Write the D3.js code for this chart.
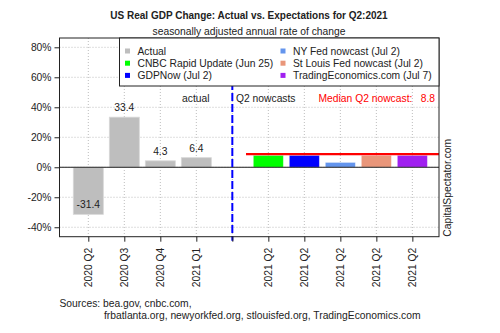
<!DOCTYPE html>
<html>
<head>
<meta charset="utf-8">
<title>US Real GDP Change</title>
<script src="https://d3js.org/d3.v7.min.js"></script>
<style>
    body { margin: 0; background: #fff; }
    svg { font-family: "Liberation Sans", Arial, sans-serif; }
    .grid line { stroke: #bdbdbd; stroke-dasharray: 1,2; }
</style>
</head>
<body>
<svg width="500" height="333"></svg>
<script>
// chart data
var categories = ["2020 Q2", "2020 Q3", "2020 Q4", "2021 Q1", "", "2021 Q2", "2021 Q2", "2021 Q2", "2021 Q2", "2021 Q2"];
var actualValues = [-31.4, 33.4, 4.3, 6.4];
var nowcastNames = ["CNBC Rapid Update (Jun 25)", "GDPNow (Jul 2)", "NY Fed nowcast (Jul 2)", "St Louis Fed nowcast (Jul 2)", "TradingEconomics.com (Jul 7)"];
var nowcastValues = [7.9, 7.9, 3.2, 7.9, 7.9];
var nowcastColors = ["#00FF00", "#0000FF", "#6495ED", "#E9967A", "#A020F0"];
var medianNowcast = 8.8;
var yTicks = [-40, -20, 0, 20, 40, 60, 80];

var fs = 10.3;
var svg = d3.select("svg");
// plot box (window.top is reserved, so use own names)
var pLeft = 59.5, pRight = 439, pTop = 38, pBottom = 236.7;

var x = d3.scaleLinear().domain([-0.8, 9.74]).range([pLeft, pRight]);
var y = d3.scaleLinear().domain([-46.3, 86.2]).range([pBottom, pTop]);
var halfBar = 0.4167;

// grid
var grid = svg.append("g").attr("class", "grid");
grid.selectAll(".h").data(yTicks).enter().append("line")
    .attr("x1", pLeft).attr("x2", pRight)
    .attr("y1", function (d) { return y(d); }).attr("y2", function (d) { return y(d); });
grid.selectAll(".v").data(categories).enter().append("line")
    .attr("x1", function (d, i) { return x(i); }).attr("x2", function (d, i) { return x(i); })
    .attr("y1", pTop).attr("y2", pBottom);

// actual bars
svg.selectAll(".actual").data(actualValues).enter().append("rect")
    .attr("x", function (d, i) { return x(i - halfBar); })
    .attr("width", x(halfBar) - x(-halfBar))
    .attr("y", function (d) { return y(Math.max(0, d)); })
    .attr("height", function (d) { return Math.abs(y(d) - y(0)); })
    .attr("fill", "#BEBEBE")
    .attr("stroke", "#d8d8d8").attr("stroke-width", 0.8);

svg.selectAll(".alabel").data(actualValues).enter().append("text")
    .attr("x", function (d, i) { return x(i); })
    .attr("y", function (d) { return y(d) - 9.5; })
    .attr("dy", "0.35em")
    .attr("text-anchor", "middle")
    .attr("font-size", fs).attr("fill", "#222")
    .text(function (d) { return d.toFixed(1); });

// nowcast bars
svg.selectAll(".now").data(nowcastValues).enter().append("rect")
    .attr("x", function (d, i) { return x(i + 5 - halfBar); })
    .attr("width", x(halfBar) - x(-halfBar))
    .attr("y", function (d) { return y(d); })
    .attr("height", function (d) { return y(0) - y(d); })
    .attr("fill", function (d, i) { return nowcastColors[i]; })
    .attr("stroke", "#fff").attr("stroke-opacity", 0.4).attr("stroke-width", 0.8);

// zero line
svg.append("line")
    .attr("x1", pLeft).attr("x2", pRight)
    .attr("y1", y(0)).attr("y2", y(0))
    .attr("stroke", "#222").attr("stroke-width", 1);

// median line
svg.append("line")
    .attr("x1", x(4.38)).attr("x2", pRight)
    .attr("y1", y(medianNowcast)).attr("y2", y(medianNowcast))
    .attr("stroke", "#FF0000").attr("stroke-width", 2.2);

// divider
svg.append("line")
    .attr("x1", x(4)).attr("x2", x(4))
    .attr("y1", pTop).attr("y2", pBottom + 4)
    .attr("stroke", "#0000FF").attr("stroke-width", 2)
    .attr("stroke-dasharray", "8,3");

// axes
var yAxis = svg.append("g")
    .attr("transform", "translate(" + pLeft + ",0)")
    .call(d3.axisLeft(y).tickValues(yTicks).tickSize(5).tickPadding(3)
        .tickFormat(function (d) { return d + "%"; }));
yAxis.select(".domain").remove();
yAxis.selectAll("text").attr("font-size", fs).attr("fill", "#222").attr("font-family", null);
yAxis.selectAll("line").attr("stroke", "#222");

var xAxis = svg.append("g")
    .attr("transform", "translate(0," + pBottom + ")")
    .call(d3.axisBottom(x).tickValues(d3.range(categories.length)).tickSize(5)
        .tickFormat(function (d) { return categories[d]; }));
xAxis.select(".domain").remove();
xAxis.selectAll("line").attr("stroke", "#222");
xAxis.selectAll("text")
    .attr("font-size", fs).attr("fill", "#222").attr("font-family", null)
    .attr("transform", "rotate(-90)")
    .attr("text-anchor", "end")
    .attr("x", -11).attr("y", 0).attr("dy", "0.35em");

// box
svg.append("rect")
    .attr("x", pLeft).attr("y", pTop)
    .attr("width", pRight - pLeft).attr("height", pBottom - pTop)
    .attr("fill", "none").attr("stroke", "#222").attr("stroke-width", 1);

// legend
var legendItems = [{ name: "Actual", color: "#BEBEBE" }].concat(nowcastNames.map(function (n, i) {
    return { name: n, color: nowcastColors[i] };
}));
svg.append("rect")
    .attr("x", 119.5).attr("y", pTop)
    .attr("width", pRight - 119.5).attr("height", 48)
    .attr("fill", "#fff").attr("stroke", "#222").attr("stroke-width", 1);
var lg = svg.selectAll(".lg").data(legendItems).enter().append("g")
    .attr("transform", function (d, i) {
        var col = i < 3 ? 0 : 1, row = i % 3;
        return "translate(" + (col ? 283 : 127.5) + "," + (51 + row * 12.2) + ")";
    });
lg.append("rect").attr("x", -2.5).attr("y", -2.5).attr("width", 5).attr("height", 5)
    .attr("fill", function (d) { return d.color; });
lg.append("text").attr("x", 10).attr("dy", "0.35em")
    .attr("font-size", fs).attr("fill", "#222")
    .text(function (d) { return d.name; });

// annotations
svg.append("text").attr("x", 209.5).attr("y", 98.5).attr("dy", "0.35em")
    .attr("text-anchor", "end").attr("font-size", fs).attr("fill", "#222").text("actual");
svg.append("text").attr("x", 236).attr("y", 98.5).attr("dy", "0.35em")
    .attr("font-size", fs).attr("fill", "#222").text("Q2 nowcasts");
svg.append("text").attr("x", 318.5).attr("y", 98.5).attr("dy", "0.35em")
    .attr("font-size", fs).attr("fill", "#FF0000").text("Median Q2 nowcast:");
svg.append("text").attr("x", 435).attr("y", 98.5).attr("dy", "0.35em")
    .attr("text-anchor", "end").attr("font-size", fs).attr("fill", "#FF0000").text(medianNowcast.toFixed(1));

// titles
svg.append("text").attr("x", 249).attr("y", 15).attr("dy", "0.35em")
    .attr("text-anchor", "middle").attr("font-size", 10).attr("font-weight", "bold").attr("fill", "#222")
    .text("US Real GDP Change: Actual vs. Expectations for Q2:2021");
svg.append("text").attr("x", 249).attr("y", 31).attr("dy", "0.35em")
    .attr("text-anchor", "middle").attr("font-size", fs).attr("fill", "#222")
    .text("seasonally adjusted annual rate of change");

svg.append("text")
    .attr("transform", "translate(447.5," + pBottom + ") rotate(-90)")
    .attr("dy", "0.35em").attr("font-size", fs).attr("fill", "#222")
    .text("CapitalSpectator.com");

svg.append("text").attr("x", pLeft).attr("y", 303).attr("dy", "0.35em")
    .attr("font-size", fs).attr("fill", "#222").text("Sources: bea.gov, cnbc.com,");
svg.append("text").attr("x", 104).attr("y", 315.5).attr("dy", "0.35em")
    .attr("font-size", fs).attr("fill", "#222")
    .text("frbatlanta.org, newyorkfed.org, stlouisfed.org, TradingEconomics.com");
</script>
</body>
</html>
